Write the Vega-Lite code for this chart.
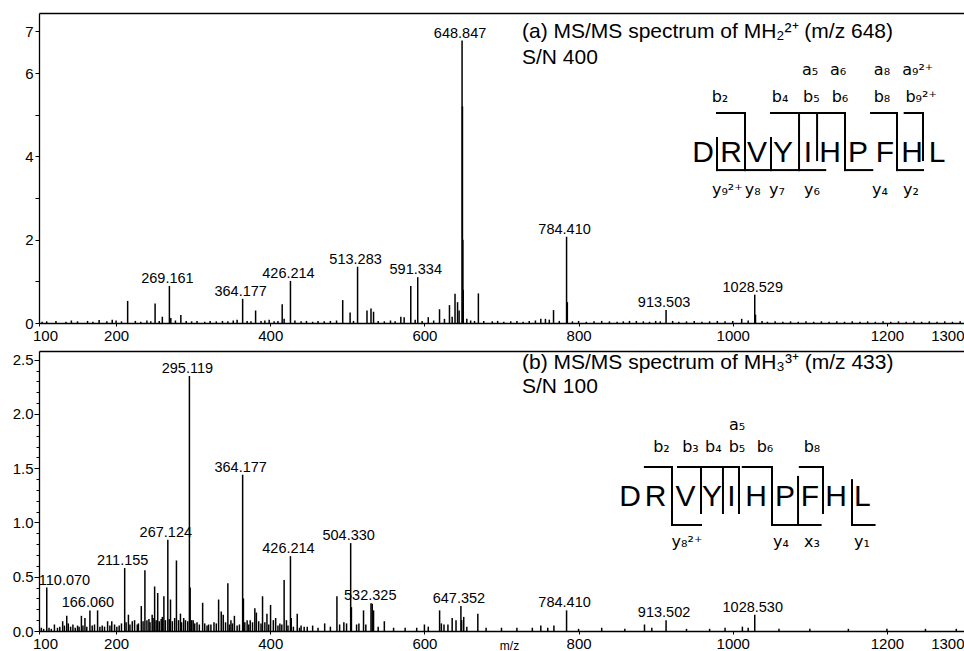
{
  "$schema": "https://vega.github.io/schema/vega-lite/v6.json",
  "padding": {"left": 0, "top": 13, "right": 0, "bottom": 0},
  "bounds": "flush",
  "spacing": 28,
  "config": {
    "view": {"stroke": null},
    "font": "Liberation Sans",
    "axis": {"grid": false, "domainColor": "#000", "tickColor": "#000", "labelColor": "#000", "labelFont": "Liberation Sans", "labelFontSize": 15, "titleFont": "Liberation Sans", "titleColor": "#000", "domainWidth": 1.3, "tickWidth": 1, "labelOverlap": false, "labelFlush": false},
    "text": {"font": "Liberation Sans", "color": "#000"}
  },
  "datasets": {
    "peaksA": [
      {"mz":215,"i":0.53},{"mz":250.6,"i":0.47},{"mz":260,"i":0.15},{"mz":269.16,"i":0.89},{"mz":271,"i":0.12},{"mz":284,"i":0.19},
      {"mz":364.18,"i":0.58},{"mz":381,"i":0.3},{"mz":398.6,"i":0.08},{"mz":415.5,"i":0.45},{"mz":418,"i":0.1},{"mz":426.21,"i":1.01},
      {"mz":494,"i":0.55},{"mz":503.6,"i":0.25},{"mz":513.28,"i":1.35},{"mz":525.5,"i":0.3},{"mz":530.7,"i":0.35},{"mz":534,"i":0.27},
      {"mz":569.4,"i":0.15},{"mz":573.7,"i":0.14},{"mz":582.3,"i":0.89},{"mz":591.33,"i":1.1},{"mz":605,"i":0.14},{"mz":619.6,"i":0.33},
      {"mz":632.5,"i":0.43},{"mz":639.7,"i":0.7},{"mz":643,"i":0.5},{"mz":648.85,"i":6.78},{"mz":649.35,"i":5.2},{"mz":649.85,"i":2.0},
      {"mz":650.35,"i":0.8},{"mz":670,"i":0.71},{"mz":751,"i":0.1},{"mz":757,"i":0.1},{"mz":767.5,"i":0.31},{"mz":784.41,"i":2.07},
      {"mz":785.4,"i":0.5},{"mz":866,"i":0.05},{"mz":913.5,"i":0.31},{"mz":1011.6,"i":0.1},{"mz":1028.53,"i":0.68},{"mz":1029.5,"i":0.2},
      {"mz":104,"i":0.03},{"mz":110,"i":0.04},{"mz":122,"i":0.05},{"mz":135,"i":0.03},{"mz":142,"i":0.06},{"mz":150,"i":0.04},
      {"mz":163,"i":0.05},{"mz":170,"i":0.03},{"mz":178,"i":0.07},{"mz":188,"i":0.04},{"mz":195,"i":0.08},{"mz":200,"i":0.06},
      {"mz":207,"i":0.04},{"mz":225,"i":0.05},{"mz":232,"i":0.03},{"mz":240,"i":0.06},{"mz":245,"i":0.04},{"mz":256,"i":0.05},
      {"mz":277,"i":0.06},{"mz":291,"i":0.05},{"mz":298,"i":0.04},{"mz":305,"i":0.05},{"mz":315,"i":0.03},{"mz":322,"i":0.05},
      {"mz":330,"i":0.04},{"mz":338,"i":0.05},{"mz":345,"i":0.04},{"mz":352,"i":0.06},{"mz":357,"i":0.08},{"mz":370,"i":0.05},
      {"mz":375,"i":0.04},{"mz":388,"i":0.05},{"mz":393,"i":0.06},{"mz":405,"i":0.04},{"mz":410,"i":0.05},{"mz":432,"i":0.06},
      {"mz":440,"i":0.04},{"mz":447,"i":0.05},{"mz":455,"i":0.03},{"mz":462,"i":0.05},{"mz":470,"i":0.04},{"mz":478,"i":0.05},
      {"mz":486,"i":0.06},{"mz":508,"i":0.05},{"mz":540,"i":0.05},{"mz":548,"i":0.04},{"mz":556,"i":0.06},{"mz":562,"i":0.04},
      {"mz":588,"i":0.08},{"mz":597,"i":0.05},{"mz":612,"i":0.06},{"mz":626,"i":0.1},{"mz":636,"i":0.15},{"mz":645,"i":0.3},
      {"mz":655,"i":0.1},{"mz":660,"i":0.06},{"mz":665,"i":0.05},{"mz":677,"i":0.05},{"mz":688,"i":0.04},{"mz":695,"i":0.05},
      {"mz":703,"i":0.03},{"mz":712,"i":0.04},{"mz":720,"i":0.05},{"mz":728,"i":0.03},{"mz":736,"i":0.05},{"mz":744,"i":0.06},
      {"mz":762,"i":0.08},{"mz":775,"i":0.05},{"mz":792,"i":0.04},{"mz":800,"i":0.05},{"mz":810,"i":0.03},{"mz":820,"i":0.04},
      {"mz":830,"i":0.05},{"mz":840,"i":0.04},{"mz":850,"i":0.03},{"mz":858,"i":0.04},{"mz":875,"i":0.05},{"mz":884,"i":0.04},
      {"mz":892,"i":0.03},{"mz":900,"i":0.05},{"mz":906,"i":0.04},{"mz":922,"i":0.05},{"mz":930,"i":0.03},{"mz":940,"i":0.04},
      {"mz":950,"i":0.05},{"mz":960,"i":0.03},{"mz":970,"i":0.04},{"mz":980,"i":0.05},{"mz":990,"i":0.04},{"mz":1000,"i":0.05},
      {"mz":1020,"i":0.06},{"mz":1038,"i":0.05},{"mz":1045,"i":0.03},{"mz":1055,"i":0.04},{"mz":1065,"i":0.03},{"mz":1075,"i":0.04},
      {"mz":1085,"i":0.03},{"mz":1095,"i":0.04},{"mz":1105,"i":0.03},{"mz":1115,"i":0.04},{"mz":1125,"i":0.03},{"mz":1135,"i":0.04},
      {"mz":1145,"i":0.03},{"mz":1155,"i":0.04},{"mz":1165,"i":0.03},{"mz":1175,"i":0.04},{"mz":1185,"i":0.03},{"mz":1195,"i":0.04},
      {"mz":1205,"i":0.03},{"mz":1215,"i":0.04},{"mz":1225,"i":0.03},{"mz":1235,"i":0.04},{"mz":1245,"i":0.03},{"mz":1255,"i":0.04},
      {"mz":1265,"i":0.03},{"mz":1275,"i":0.04},{"mz":1285,"i":0.03},{"mz":1295,"i":0.04}
    ],
    "labA": [
      {"mz":269.161,"i":0.89,"t":"269.161"},{"mz":364.177,"i":0.58,"t":"364.177"},{"mz":426.214,"i":1.01,"t":"426.214"},
      {"mz":513.283,"i":1.35,"t":"513.283"},{"mz":591.334,"i":1.1,"t":"591.334"},{"mz":648.847,"i":6.78,"t":"648.847"},
      {"mz":784.41,"i":2.07,"t":"784.410"},{"mz":913.503,"i":0.31,"t":"913.503"},{"mz":1028.529,"i":0.68,"t":"1028.529"}
    ],
    "hdrA": [
      {"mz":726.6,"i":6.98,"t":"(a) MS/MS spectrum of MH₂²⁺ (m/z 648)"},
      {"mz":726.6,"i":6.36,"t":"S/N 400"}
    ],
    "seqA": [
      {"mz":961.4,"i":4.08,"t":"D"},{"mz":997.7,"i":4.08,"t":"R"},{"mz":1031.5,"i":4.08,"t":"V"},{"mz":1065.2,"i":4.08,"t":"Y"},
      {"mz":1097.6,"i":4.08,"t":"I"},{"mz":1126.2,"i":4.08,"t":"H"},{"mz":1162.5,"i":4.08,"t":"P"},{"mz":1197.5,"i":4.08,"t":"F"},
      {"mz":1232.5,"i":4.08,"t":"H"},{"mz":1265,"i":4.08,"t":"L"}
    ],
    "ionA": [
      {"mz":1100.2,"i":6.07,"t":"a₅"},{"mz":1136.6,"i":6.07,"t":"a₆"},{"mz":1193.6,"i":6.07,"t":"a₈"},{"mz":1240,"i":6.07,"t":"a₉²⁺"},
      {"mz":983.4,"i":5.42,"t":"b₂"},{"mz":1061.3,"i":5.42,"t":"b₄"},{"mz":1102,"i":5.42,"t":"b₅"},{"mz":1139.1,"i":5.42,"t":"b₆"},
      {"mz":1193.6,"i":5.42,"t":"b₈"},{"mz":1244.4,"i":5.42,"t":"b₉²⁺"},
      {"mz":993,"i":3.19,"t":"y₉²⁺"},{"mz":1026,"i":3.19,"t":"y₈"},{"mz":1057.4,"i":3.19,"t":"y₇"},{"mz":1102.8,"i":3.19,"t":"y₆"},
      {"mz":1191.1,"i":3.19,"t":"y₄"},{"mz":1231.3,"i":3.19,"t":"y₂"}
    ],
    "linesA": [
      {"mz":979.6,"mz2":1015.9,"i":5.04,"i2":5.04},{"mz":1015.9,"mz2":1015.9,"i":5.04,"i2":3.67},
      {"mz":979.6,"mz2":979.6,"i":4.44,"i2":3.67},{"mz":979.6,"mz2":1015.9,"i":3.67,"i2":3.67},
      {"mz":1015.9,"mz2":1049.6,"i":3.67,"i2":3.67},
      {"mz":1049.6,"mz2":1049.6,"i":4.44,"i2":3.67},{"mz":1049.6,"mz2":1086,"i":3.67,"i2":3.67},
      {"mz":1049.6,"mz2":1086,"i":5.04,"i2":5.04},{"mz":1086,"mz2":1086,"i":5.04,"i2":3.67},
      {"mz":1086,"mz2":1120,"i":3.67,"i2":3.67},
      {"mz":1086,"mz2":1109.4,"i":5.04,"i2":5.04},{"mz":1109.4,"mz2":1109.4,"i":5.04,"i2":3.91},
      {"mz":1111,"mz2":1145.6,"i":5.04,"i2":5.04},{"mz":1145.6,"mz2":1145.6,"i":5.04,"i2":3.67},
      {"mz":1145.6,"mz2":1181,"i":3.67,"i2":3.67},
      {"mz":1179.4,"mz2":1213.1,"i":5.04,"i2":5.04},{"mz":1213.1,"mz2":1213.1,"i":5.04,"i2":3.67},
      {"mz":1213.1,"mz2":1246.8,"i":3.67,"i2":3.67},
      {"mz":1223,"mz2":1246.8,"i":5.04,"i2":5.04},{"mz":1246.8,"mz2":1246.8,"i":5.04,"i2":3.91}
    ],
    "peaksB": [
      {"mz":110.07,"i":0.4},{"mz":120,"i":0.06},{"mz":130.7,"i":0.09},{"mz":136,"i":0.14},{"mz":138,"i":0.07},{"mz":150,"i":0.05},
      {"mz":155,"i":0.14},{"mz":159.6,"i":0.12},{"mz":166.06,"i":0.19},{"mz":176,"i":0.19},{"mz":189,"i":0.09},{"mz":194.4,"i":0.09},
      {"mz":211.16,"i":0.58},{"mz":216,"i":0.15},{"mz":221,"i":0.09},{"mz":227.5,"i":0.06},{"mz":232.7,"i":0.23},{"mz":237.4,"i":0.56},
      {"mz":242.6,"i":0.11},{"mz":246.8,"i":0.15},{"mz":250,"i":0.41},{"mz":254,"i":0.35},{"mz":258.5,"i":0.11},{"mz":262,"i":0.32},
      {"mz":267.12,"i":0.84},{"mz":270.6,"i":0.29},{"mz":278.3,"i":0.65},{"mz":283.5,"i":0.16},{"mz":287.7,"i":0.12},{"mz":295.12,"i":2.35},
      {"mz":296.1,"i":0.4},{"mz":300,"i":0.1},{"mz":305,"i":0.08},{"mz":312.3,"i":0.26},{"mz":320,"i":0.06},{"mz":327,"i":0.08},
      {"mz":333,"i":0.29},{"mz":336.4,"i":0.18},{"mz":339,"i":0.15},{"mz":345,"i":0.44},{"mz":349,"i":0.1},{"mz":353.5,"i":0.14},
      {"mz":364.18,"i":1.44},{"mz":365.2,"i":0.3},{"mz":370,"i":0.1},{"mz":374,"i":0.1},{"mz":380,"i":0.21},{"mz":382,"i":0.17},
      {"mz":390,"i":0.32},{"mz":395.7,"i":0.16},{"mz":400.4,"i":0.24},{"mz":404,"i":0.1},{"mz":407,"i":0.12},{"mz":412.5,"i":0.07},
      {"mz":418,"i":0.47},{"mz":421,"i":0.1},{"mz":426.21,"i":0.69},{"mz":427.2,"i":0.12},{"mz":435,"i":0.16},{"mz":440,"i":0.05},
      {"mz":448,"i":0.04},{"mz":455,"i":0.05},{"mz":462,"i":0.03},{"mz":470.6,"i":0.07},{"mz":478,"i":0.04},{"mz":486.5,"i":0.32},
      {"mz":490,"i":0.06},{"mz":495.5,"i":0.08},{"mz":499,"i":0.07},{"mz":504.33,"i":0.81},{"mz":505.3,"i":0.22},{"mz":512,"i":0.06},
      {"mz":515,"i":0.07},{"mz":521,"i":0.19},{"mz":524,"i":0.06},{"mz":530.7,"i":0.255},{"mz":532.3,"i":0.25},{"mz":534,"i":0.19},
      {"mz":540,"i":0.04},{"mz":548,"i":0.09},{"mz":560,"i":0.03},{"mz":575,"i":0.03},{"mz":590,"i":0.03},{"mz":600,"i":0.06},
      {"mz":605,"i":0.04},{"mz":619.7,"i":0.19},{"mz":622,"i":0.07},{"mz":625.4,"i":0.06},{"mz":630.5,"i":0.06},{"mz":636,"i":0.12},
      {"mz":641,"i":0.1},{"mz":647.35,"i":0.23},{"mz":648.3,"i":0.1},{"mz":651,"i":0.13},{"mz":655,"i":0.04},{"mz":669.3,"i":0.16},
      {"mz":680,"i":0.03},{"mz":700,"i":0.03},{"mz":720,"i":0.03},{"mz":740,"i":0.03},{"mz":751,"i":0.05},{"mz":760,"i":0.03},
      {"mz":768,"i":0.05},{"mz":784.41,"i":0.19},{"mz":800,"i":0.02},{"mz":830,"i":0.03},{"mz":860,"i":0.02},{"mz":885.5,"i":0.06},
      {"mz":895,"i":0.03},{"mz":913.5,"i":0.1},{"mz":940,"i":0.02},{"mz":970,"i":0.02},{"mz":990,"i":0.03},{"mz":1012.5,"i":0.04},
      {"mz":1020,"i":0.03},{"mz":1028.53,"i":0.15},{"mz":1060,"i":0.02},{"mz":1100,"i":0.02},{"mz":1150,"i":0.02},{"mz":1200,"i":0.02},
      {"mz":1250,"i":0.02},{"mz":1290,"i":0.02},
      {"mz":103,"i":0.03},{"mz":106,"i":0.02},{"mz":113,"i":0.03},{"mz":116,"i":0.02},{"mz":124,"i":0.03},{"mz":127,"i":0.04},
      {"mz":133,"i":0.05},{"mz":141,"i":0.04},{"mz":144,"i":0.06},{"mz":147,"i":0.03},{"mz":152,"i":0.04},{"mz":157,"i":0.05},
      {"mz":162,"i":0.04},{"mz":169,"i":0.05},{"mz":172,"i":0.06},{"mz":179,"i":0.04},{"mz":182,"i":0.05},{"mz":185,"i":0.04},
      {"mz":192,"i":0.05},{"mz":198,"i":0.06},{"mz":201,"i":0.04},{"mz":204,"i":0.05},{"mz":207,"i":0.07},{"mz":213,"i":0.08},
      {"mz":218,"i":0.06},{"mz":224,"i":0.1},{"mz":229,"i":0.07},{"mz":235,"i":0.09},{"mz":240,"i":0.1},{"mz":244,"i":0.08},
      {"mz":248,"i":0.12},{"mz":252,"i":0.1},{"mz":256,"i":0.09},{"mz":260,"i":0.13},{"mz":264,"i":0.1},{"mz":269,"i":0.11},
      {"mz":273,"i":0.09},{"mz":276,"i":0.12},{"mz":281,"i":0.1},{"mz":285,"i":0.08},{"mz":290,"i":0.1},{"mz":293,"i":0.09},
      {"mz":298,"i":0.1},{"mz":302,"i":0.07},{"mz":308,"i":0.06},{"mz":315,"i":0.07},{"mz":318,"i":0.05},{"mz":323,"i":0.06},
      {"mz":330,"i":0.07},{"mz":342,"i":0.08},{"mz":347,"i":0.06},{"mz":351,"i":0.07},{"mz":357,"i":0.05},{"mz":360,"i":0.06},
      {"mz":367,"i":0.08},{"mz":372,"i":0.06},{"mz":377,"i":0.08},{"mz":385,"i":0.09},{"mz":388,"i":0.07},{"mz":393,"i":0.08},
      {"mz":398,"i":0.06},{"mz":410,"i":0.05},{"mz":415,"i":0.06},{"mz":423,"i":0.05},{"mz":430,"i":0.04},{"mz":438,"i":0.03},
      {"mz":444,"i":0.04}
    ],
    "labB": [
      {"mz":110.07,"i":0.4,"t":"110.070"},{"mz":166.06,"i":0.19,"t":"166.060"},{"mz":211.155,"i":0.58,"t":"211.155"},
      {"mz":267.124,"i":0.84,"t":"267.124"},{"mz":295.119,"i":2.35,"t":"295.119"},{"mz":364.177,"i":1.44,"t":"364.177"},
      {"mz":426.214,"i":0.69,"t":"426.214"},{"mz":504.33,"i":0.81,"t":"504.330"},{"mz":532.325,"i":0.255,"t":"532.325"},
      {"mz":647.352,"i":0.23,"t":"647.352"},{"mz":784.41,"i":0.19,"t":"784.410"},{"mz":913.502,"i":0.1,"t":"913.502"},
      {"mz":1028.53,"i":0.15,"t":"1028.530"}
    ],
    "hdrB": [
      {"mz":726.6,"i":2.469,"t":"(b) MS/MS spectrum of MH₃³⁺ (m/z 433)"},
      {"mz":726.6,"i":2.248,"t":"S/N 100"}
    ],
    "seqB": [
      {"mz":866.7,"i":1.235,"t":"D"},{"mz":899.8,"i":1.235,"t":"R"},{"mz":938.8,"i":1.235,"t":"V"},{"mz":973.1,"i":1.235,"t":"Y"},
      {"mz":998.3,"i":1.235,"t":"I"},{"mz":1030.2,"i":1.235,"t":"H"},{"mz":1067.8,"i":1.235,"t":"P"},{"mz":1100.2,"i":1.235,"t":"F"},
      {"mz":1134,"i":1.235,"t":"H"},{"mz":1168,"i":1.235,"t":"L"}
    ],
    "ionB": [
      {"mz":1005.5,"i":1.898,"t":"a₅"},
      {"mz":907.5,"i":1.695,"t":"b₂"},{"mz":945.1,"i":1.695,"t":"b₃"},{"mz":974.9,"i":1.695,"t":"b₄"},{"mz":1005.5,"i":1.695,"t":"b₅"},
      {"mz":1041.8,"i":1.695,"t":"b₆"},{"mz":1102.8,"i":1.695,"t":"b₈"},
      {"mz":940.6,"i":0.82,"t":"y₈²⁺"},{"mz":1062.6,"i":0.82,"t":"y₄"},{"mz":1102.8,"i":0.82,"t":"x₃"},{"mz":1167.7,"i":0.82,"t":"y₁"}
    ],
    "linesB": [
      {"mz":886,"mz2":921.2,"i":1.511,"i2":1.511},{"mz":921.2,"mz2":921.2,"i":1.511,"i2":0.977},
      {"mz":921.2,"mz2":958.8,"i":0.977,"i2":0.977},
      {"mz":929,"mz2":958.8,"i":1.511,"i2":1.511},{"mz":958.8,"mz2":958.8,"i":1.511,"i2":1.087},
      {"mz":958.8,"mz2":987.3,"i":1.511,"i2":1.511},{"mz":987.3,"mz2":987.3,"i":1.511,"i2":1.087},
      {"mz":987.3,"mz2":1008.1,"i":1.511,"i2":1.511},{"mz":1008.1,"mz2":1008.1,"i":1.511,"i2":1.087},
      {"mz":1013,"mz2":1050.9,"i":1.511,"i2":1.511},{"mz":1050.9,"mz2":1050.9,"i":1.511,"i2":0.977},
      {"mz":1050.9,"mz2":1084.7,"i":0.977,"i2":0.977},
      {"mz":1084.7,"mz2":1084.7,"i":1.42,"i2":0.977},{"mz":1084.7,"mz2":1114,"i":0.977,"i2":0.977},
      {"mz":1087,"mz2":1117.1,"i":1.511,"i2":1.511},{"mz":1117.1,"mz2":1117.1,"i":1.511,"i2":1.087},
      {"mz":1154.7,"mz2":1154.7,"i":1.39,"i2":0.977},{"mz":1154.7,"mz2":1184,"i":0.977,"i2":0.977}
    ]
  },
  "vconcat": [
    {
      "width": 925,
      "height": 310,
      "resolve": {"axis": {"x": "independent", "y": "independent"}},
      "layer": [
        {
          "data": {"name": "peaksA"},
          "mark": {"type": "rule", "color": "#000", "strokeWidth": 1.5},
          "encoding": {
            "x": {"field": "mz", "type": "quantitative", "scale": {"domain": [100, 1300], "nice": false, "zero": false},
              "axis": {"orient": "bottom", "title": null, "format": "d", "values": [100, 200, 400, 600, 800, 1000, 1200, 1300], "tickSize": 3, "labelPadding": 2,
                "labelOffset": {"condition": {"test": "datum.value == 100", "value": 6}, "value": 0},
                "labelAlign": {"condition": {"test": "datum.value == 1300", "value": "right"}, "value": "center"}}},
            "y": {"field": "i", "type": "quantitative", "scale": {"domain": [0, 7.44], "nice": false},
              "axis": {"orient": "left", "title": null, "values": [0, 1, 2, 3, 4, 5, 6, 7], "tickSize": 4, "labelPadding": 2, "minExtent": 39, "maxExtent": 39,
                "labelExpr": "(datum.value == 1 || datum.value == 3 || datum.value == 5) ? '' : datum.label"}},
            "y2": {"datum": 0}
          }
        },
        {
          "data": {"name": "hdrA"},
          "mark": {"type": "text", "align": "left", "baseline": "middle", "fontSize": 21},
          "encoding": {
            "x": {"field": "mz", "type": "quantitative", "scale": {"domain": [100, 1300], "nice": false, "zero": false},
              "axis": {"orient": "top", "title": null, "labels": false, "ticks": false, "domain": true}},
            "y": {"field": "i", "type": "quantitative", "scale": {"domain": [0, 7.44], "nice": false}, "axis": null},
            "text": {"field": "t"}
          }
        },
        {
          "data": {"name": "labA"},
          "mark": {"type": "text", "align": "center", "baseline": "alphabetic", "fontSize": 14.5, "dy": -3, "dx": -2},
          "encoding": {
            "x": {"field": "mz", "type": "quantitative", "scale": {"domain": [100, 1300], "nice": false, "zero": false}, "axis": null},
            "y": {"field": "i", "type": "quantitative", "scale": {"domain": [0, 7.44], "nice": false}, "axis": null},
            "text": {"field": "t"}
          }
        },
        {
          "data": {"name": "seqA"},
          "mark": {"type": "text", "align": "center", "baseline": "middle", "fontSize": 30},
          "encoding": {
            "x": {"field": "mz", "type": "quantitative", "scale": {"domain": [100, 1300], "nice": false, "zero": false}, "axis": null},
            "y": {"field": "i", "type": "quantitative", "scale": {"domain": [0, 7.44], "nice": false}, "axis": null},
            "text": {"field": "t"}
          }
        },
        {
          "data": {"name": "ionA"},
          "mark": {"type": "text", "align": "center", "baseline": "middle", "fontSize": 16, "font": "DejaVu Sans"},
          "encoding": {
            "x": {"field": "mz", "type": "quantitative", "scale": {"domain": [100, 1300], "nice": false, "zero": false}, "axis": null},
            "y": {"field": "i", "type": "quantitative", "scale": {"domain": [0, 7.44], "nice": false}, "axis": null},
            "text": {"field": "t"}
          }
        },
        {
          "data": {"name": "linesA"},
          "mark": {"type": "rule", "color": "#000", "strokeWidth": 2, "strokeCap": "square"},
          "encoding": {
            "x": {"field": "mz", "type": "quantitative", "scale": {"domain": [100, 1300], "nice": false, "zero": false}, "axis": null},
            "x2": {"field": "mz2"},
            "y": {"field": "i", "type": "quantitative", "scale": {"domain": [0, 7.44], "nice": false}, "axis": null},
            "y2": {"field": "i2"}
          }
        }
      ]
    },
    {
      "width": 925,
      "height": 280,
      "resolve": {"axis": {"x": "independent", "y": "independent"}},
      "layer": [
        {
          "data": {"name": "peaksB"},
          "mark": {"type": "rule", "color": "#000", "strokeWidth": 1.5},
          "encoding": {
            "x": {"field": "mz", "type": "quantitative", "scale": {"domain": [100, 1300], "nice": false, "zero": false},
              "axis": {"orient": "bottom", "title": "m/z", "titleFontSize": 12, "titleFontWeight": "normal", "titleBaseline": "alphabetic", "titleY": 18, "titleX": 470,
                "format": "d", "values": [100, 200, 400, 600, 800, 1000, 1200, 1300], "tickSize": 3, "labelPadding": 2,
                "labelOffset": {"condition": {"test": "datum.value == 100", "value": 6}, "value": 0},
                "labelAlign": {"condition": {"test": "datum.value == 1300", "value": "right"}, "value": "center"}}},
            "y": {"field": "i", "type": "quantitative", "scale": {"domain": [0, 2.58], "nice": false},
              "axis": {"orient": "left", "title": null, "values": [0, 0.1, 0.2, 0.3, 0.4, 0.5, 0.6, 0.7, 0.8, 0.9, 1, 1.1, 1.2, 1.3, 1.4, 1.5, 1.6, 1.7, 1.8, 1.9, 2, 2.1, 2.2, 2.3, 2.4, 2.5],
                "labelPadding": 1, "minExtent": 39, "maxExtent": 39,
                "tickSize": {"condition": {"test": "abs(datum.value * 2 - round(datum.value * 2)) < 0.001", "value": 5}, "value": 3},
                "labelExpr": "abs(datum.value * 2 - round(datum.value * 2)) < 0.001 ? format(datum.value, '.1f') : ''"}},
            "y2": {"datum": 0}
          }
        },
        {
          "data": {"name": "hdrB"},
          "mark": {"type": "text", "align": "left", "baseline": "middle", "fontSize": 21},
          "encoding": {
            "x": {"field": "mz", "type": "quantitative", "scale": {"domain": [100, 1300], "nice": false, "zero": false},
              "axis": {"orient": "top", "title": null, "labels": false, "ticks": false, "domain": true}},
            "y": {"field": "i", "type": "quantitative", "scale": {"domain": [0, 2.58], "nice": false}, "axis": null},
            "text": {"field": "t"}
          }
        },
        {
          "data": {"name": "labB"},
          "transform": [{"filter": "datum.mz > 150"}],
          "mark": {"type": "text", "align": "center", "baseline": "alphabetic", "fontSize": 14.5, "dy": -3, "dx": -2},
          "encoding": {
            "x": {"field": "mz", "type": "quantitative", "scale": {"domain": [100, 1300], "nice": false, "zero": false}, "axis": null},
            "y": {"field": "i", "type": "quantitative", "scale": {"domain": [0, 2.58], "nice": false}, "axis": null},
            "text": {"field": "t"}
          }
        },
        {
          "data": {"name": "labB"},
          "transform": [{"filter": "datum.mz < 150"}],
          "mark": {"type": "text", "align": "left", "baseline": "alphabetic", "fontSize": 14.5, "dy": -3, "dx": -8},
          "encoding": {
            "x": {"field": "mz", "type": "quantitative", "scale": {"domain": [100, 1300], "nice": false, "zero": false}, "axis": null},
            "y": {"field": "i", "type": "quantitative", "scale": {"domain": [0, 2.58], "nice": false}, "axis": null},
            "text": {"field": "t"}
          }
        },
        {
          "data": {"name": "seqB"},
          "mark": {"type": "text", "align": "center", "baseline": "middle", "fontSize": 30},
          "encoding": {
            "x": {"field": "mz", "type": "quantitative", "scale": {"domain": [100, 1300], "nice": false, "zero": false}, "axis": null},
            "y": {"field": "i", "type": "quantitative", "scale": {"domain": [0, 2.58], "nice": false}, "axis": null},
            "text": {"field": "t"}
          }
        },
        {
          "data": {"name": "ionB"},
          "mark": {"type": "text", "align": "center", "baseline": "middle", "fontSize": 16, "font": "DejaVu Sans"},
          "encoding": {
            "x": {"field": "mz", "type": "quantitative", "scale": {"domain": [100, 1300], "nice": false, "zero": false}, "axis": null},
            "y": {"field": "i", "type": "quantitative", "scale": {"domain": [0, 2.58], "nice": false}, "axis": null},
            "text": {"field": "t"}
          }
        },
        {
          "data": {"name": "linesB"},
          "mark": {"type": "rule", "color": "#000", "strokeWidth": 2, "strokeCap": "square"},
          "encoding": {
            "x": {"field": "mz", "type": "quantitative", "scale": {"domain": [100, 1300], "nice": false, "zero": false}, "axis": null},
            "x2": {"field": "mz2"},
            "y": {"field": "i", "type": "quantitative", "scale": {"domain": [0, 2.58], "nice": false}, "axis": null},
            "y2": {"field": "i2"}
          }
        }
      ]
    }
  ]
}
